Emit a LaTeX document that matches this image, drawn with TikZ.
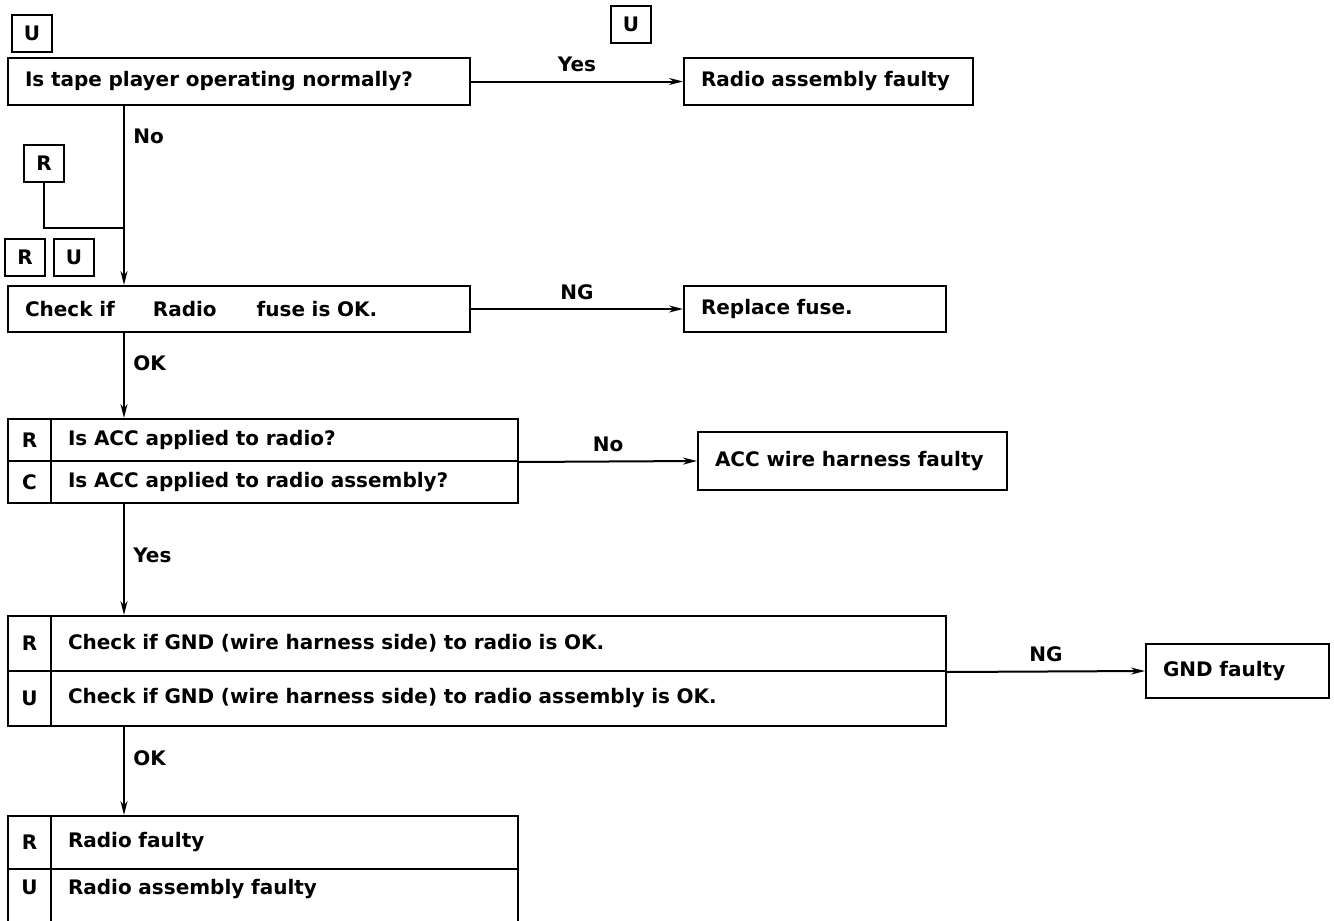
\documentclass[tikz,border=0pt]{standalone}
\usepackage{fontspec}
\setmainfont{DejaVu Sans}
\usepackage{tikz}
\usetikzlibrary{arrows.meta}
\tikzset{every node/.append style={font=\fontsize{20}{23}\selectfont\bfseries}}
\tikzset{
  box/.style={draw, anchor=north west, align=left, inner xsep=17pt, inner ysep=0pt},
  tag/.style={draw, minimum width=40pt, minimum height=37pt, inner sep=0pt},
  cell/.style={draw, anchor=north west, minimum width=43pt, inner sep=0pt},
  lbl/.style={pos=#1, anchor=west, xshift=5pt}
}

\begin{document}
\begin{tikzpicture}[x=1pt, y=-1pt, line width=2pt, >={Stealth[length=14pt, width=7pt]}]
    \useasboundingbox (0,0) rectangle (1334,921);
    \coordinate (trunk) at (124,0);
    \coordinate (join) at (124,228);

    \node[tag] (tagU) at (32,33) {U};
    \node[tag] (tagUyes) at (631,24) {U};
    \node[box, minimum height=47pt, text width=428pt] (tape) at (7,57) {Is tape player operating normally?};
    \node[box, minimum height=47pt, text width=255pt] (radioasm) at (683,57) {Radio assembly faulty};
    \draw[->] (tape.east) -- (radioasm.west) node[midway, above=5pt] {Yes};

    \node[tag] (tagR) at (44,163) {R};
    \node[tag] (tagRfuse) at (25,257) {R};
    \node[tag] (tagUfuse) at (74,257) {U};
    \node[box, minimum height=46pt, text width=428pt] (fuse) at (7,285) {Check if\hspace{38pt}Radio\hspace{40pt}fuse is OK.};
    \node[box, minimum height=46pt, text width=228pt] (repfuse) at (683,285) {Replace fuse.};
    \draw[->] (tape.south -| trunk) -- (fuse.north -| trunk) node[lbl=0.17] {No};
    \draw (tagR.south) |- (join);
    \draw[->] (fuse.east) -- (repfuse.west) node[midway, above=5pt] {NG};

    \node[cell, minimum height=42pt] (accRtag) at (7,418) {R};
    \node[box, minimum height=42pt, text width=433pt] (accR) at (50,418) {Is ACC applied to radio?};
    \node[cell, minimum height=42pt] (accCtag) at (7,460) {C};
    \node[box, minimum height=42pt, text width=433pt] (accC) at (50,460) {Is ACC applied to radio assembly?};
    \node[box, minimum height=58pt, text width=275pt] (accwire) at (697,431) {ACC wire harness faulty};
    \draw[->] (fuse.south -| trunk) -- (accR.north -| trunk) node[lbl=0.36] {OK};
    \draw[->] (accR.south east) -- (accwire.west) node[midway, above=5pt] {No};

    \node[cell, minimum height=55pt] (gndRtag) at (7,615) {R};
    \node[box, minimum height=55pt, text width=861pt] (gndR) at (50,615) {Check if GND (wire harness side) to radio is OK.};
    \node[cell, minimum height=55pt] (gndUtag) at (7,670) {U};
    \node[box, minimum height=55pt, text width=861pt] (gndU) at (50,670) {Check if GND (wire harness side) to radio assembly is OK.};
    \node[box, minimum height=54pt, text width=149pt] (gndfault) at (1145,643) {GND faulty};
    \draw[->] (accC.south -| trunk) -- (gndR.north -| trunk) node[lbl=0.46] {Yes};
    \draw[->] (gndR.south east) -- (gndfault.west) node[midway, above=5pt] {NG};

    \node[cell, minimum height=53pt] (finRtag) at (7,815) {R};
    \node[box, minimum height=53pt, text width=433pt] (finR) at (50,815) {Radio faulty};
    \node[cell, minimum height=62pt, text depth=26pt] (finUtag) at (7,868) {U};
    \node[box, minimum height=62pt, text width=433pt, text depth=26pt] (finU) at (50,868) {Radio assembly faulty};
    \draw[->] (gndU.south -| trunk) -- (finR.north -| trunk) node[lbl=0.36] {OK};
\end{tikzpicture}
\end{document}
